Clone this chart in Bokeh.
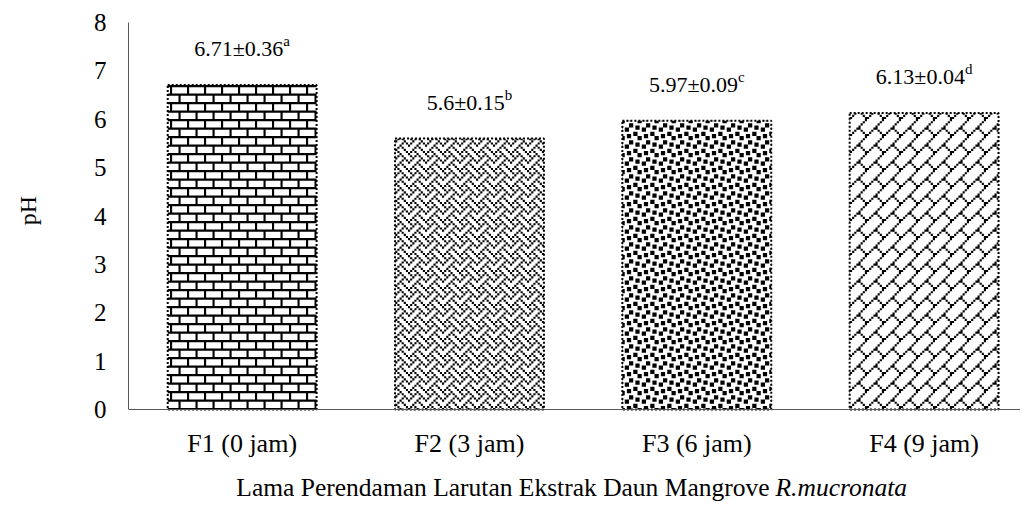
import base64
from bokeh.plotting import figure
from bokeh.models import Range1d, FixedTicker, Label, ColumnDataSource, ImageURLTexture, Span
from bokeh.core.properties import value
from bokeh.embed import file_html
from bokeh.resources import INLINE

# ---- data ----
categories = ["F1 (0 jam)", "F2 (3 jam)", "F3 (6 jam)", "F4 (9 jam)"]
ph_mean = [6.71, 5.6, 5.97, 6.13]
ph_sd = [0.36, 0.15, 0.09, 0.04]
letters = ["a", "b", "c", "d"]
y_ticks = [0, 1, 2, 3, 4, 5, 6, 7, 8]
x_title_plain = "Lama Perendaman Larutan Ekstrak Daun Mangrove"
x_title_italic = "R.mucronata"
y_title = "pH"

# ---- style: 8x8 fill patterns (horizontal brick, weave, large confetti, diagonal brick) ----
PATTERN_BITS = {
    "hbrick": [0xff, 0x80, 0x80, 0x80, 0xff, 0x08, 0x08, 0x08],
    "weave": [0x88, 0x54, 0x22, 0x45, 0x88, 0x14, 0x22, 0x51],
    "confetti": [0x8d, 0x0c, 0xc0, 0xd8, 0x1b, 0x03, 0x30, 0xb1],
    "dbrick": [0x01, 0x02, 0x04, 0x08, 0x18, 0x24, 0x42, 0x81],
}
bar_patterns = ["hbrick", "weave", "confetti", "dbrick"]
TILE = 17


def tile_url(bits, size=TILE):
    s = size / 8.0
    d = []
    for r, row in enumerate(bits):
        for c in range(8):
            if row & (0x80 >> c):
                d.append(f"M{c*s:.3f} {r*s:.3f}h{s:.3f}v{s:.3f}h{-s:.3f}z")
    svg = (f'<svg xmlns="http://www.w3.org/2000/svg" width="{size}" height="{size}" '
           f'viewBox="0 0 {size} {size}"><rect width="{size}" height="{size}" fill="white"/>'
           f'<path d="{"".join(d)}" fill="black"/></svg>')
    return "data:image/svg+xml;base64," + base64.b64encode(svg.encode()).decode()


textures = {k: ImageURLTexture(url=tile_url(v), repetition="repeat") for k, v in PATTERN_BITS.items()}

FONT = "Liberation Serif"
MAIN_PX = 22
SUP_PX = 15

xs = list(range(len(categories)))
main_txt = [f"{m:g}\u00b1{s:g}" for m, s in zip(ph_mean, ph_sd)]

# approximate Times widths (em) to centre "main + superscript" on the bar
cw = {".": 0.25, "\u00b1": 0.549}
def width_em(t):
    return sum(cw.get(c, 0.5) for c in t)
sup_w = [(0.444 if l in "ac" else 0.5) * SUP_PX for l in letters]
x_off = [(width_em(t) * MAIN_PX - sw) / 2 for t, sw in zip(main_txt, sup_w)]

src = ColumnDataSource(dict(
    x=xs, top=ph_mean, main=main_txt, sup=letters, xo=x_off, pat=bar_patterns,
    base=[0] * len(xs), cat=categories,
))

# frame extends below y=0 so that the category labels and the mixed-style
# x title can be drawn inside it; the x axis itself is drawn at y=0
Y_MIN = -2.005
p = figure(width=1020, height=506, output_backend="svg", toolbar_location=None,
           x_range=Range1d(-0.5, 3.424), y_range=Range1d(Y_MIN, 8),
           min_border_left=128, min_border_right=0, min_border_top=22,
           min_border_bottom=0)
p.outline_line_color = None
p.xgrid.grid_line_color = None
p.ygrid.grid_line_color = None
p.background_fill_color = "white"
p.border_fill_color = "white"
p.xaxis.visible = False

BAR_W = 0.655
p.vbar(x="x", top="top", width=BAR_W, bottom=0, source=src,
       fill_color="white", line_color="black", line_width=2, line_dash="2 2",
       hatch_pattern="pat", hatch_extra=textures)

# x axis line at pH 0
p.add_layout(Span(location=0, dimension="width", line_color="#595959", line_width=1))

# category labels under the axis
p.text(x="x", y="base", text="cat", y_offset=34, source=src,
       text_align="center", text_baseline="middle",
       text_font=value(FONT), text_font_size="26px", text_color="black")

# value labels with superscript letters
p.text(x="x", y="top", text="main", x_offset="xo", y_offset=-36, source=src,
       text_align="right", text_baseline="alphabetic",
       text_font=value(FONT), text_font_size=f"{MAIN_PX}px", text_color="black")
p.text(x="x", y="top", text="sup", x_offset="xo", y_offset=-44, source=src,
       text_align="left", text_baseline="alphabetic",
       text_font=value(FONT), text_font_size=f"{SUP_PX}px", text_color="black")

# y axis
p.yaxis.ticker = FixedTicker(ticks=y_ticks)
p.yaxis.bounds = (0, 8)
p.yaxis.major_tick_line_color = None
p.yaxis.minor_tick_line_color = None
p.yaxis.major_tick_out = 0
p.yaxis.minor_tick_out = 0
p.yaxis.axis_line_color = "#595959"
p.yaxis.axis_line_width = 1
p.yaxis.major_label_text_font = FONT
p.yaxis.major_label_text_font_size = "25px"
p.yaxis.major_label_text_color = "black"
p.yaxis.major_label_standoff = 22
# leading no-break spaces move the centred (rotated) label up to the middle of 0..8
p.yaxis.axis_label = "\u00a0" * 18 + y_title
p.yaxis.axis_label_text_font = FONT
p.yaxis.axis_label_text_font_size = "24px"
p.yaxis.axis_label_text_font_style = "normal"
p.yaxis.axis_label_text_color = "black"
p.yaxis.axis_label_standoff = 50

# x-axis title with italic species name
split_x = 2.32
title_y = -1.61
p.add_layout(Label(x=split_x, y=title_y, x_units="data", y_units="data",
                   text=x_title_plain, text_align="right", text_baseline="middle",
                   text_font=FONT, text_font_size="25.5px", text_color="black"))
p.add_layout(Label(x=split_x, y=title_y, x_units="data", y_units="data", x_offset=6,
                   text=x_title_italic, text_align="left", text_baseline="middle",
                   text_font=FONT, text_font_size="25.5px", text_font_style="italic",
                   text_color="black"))

open("out.html", "w").write(file_html(p, INLINE))
